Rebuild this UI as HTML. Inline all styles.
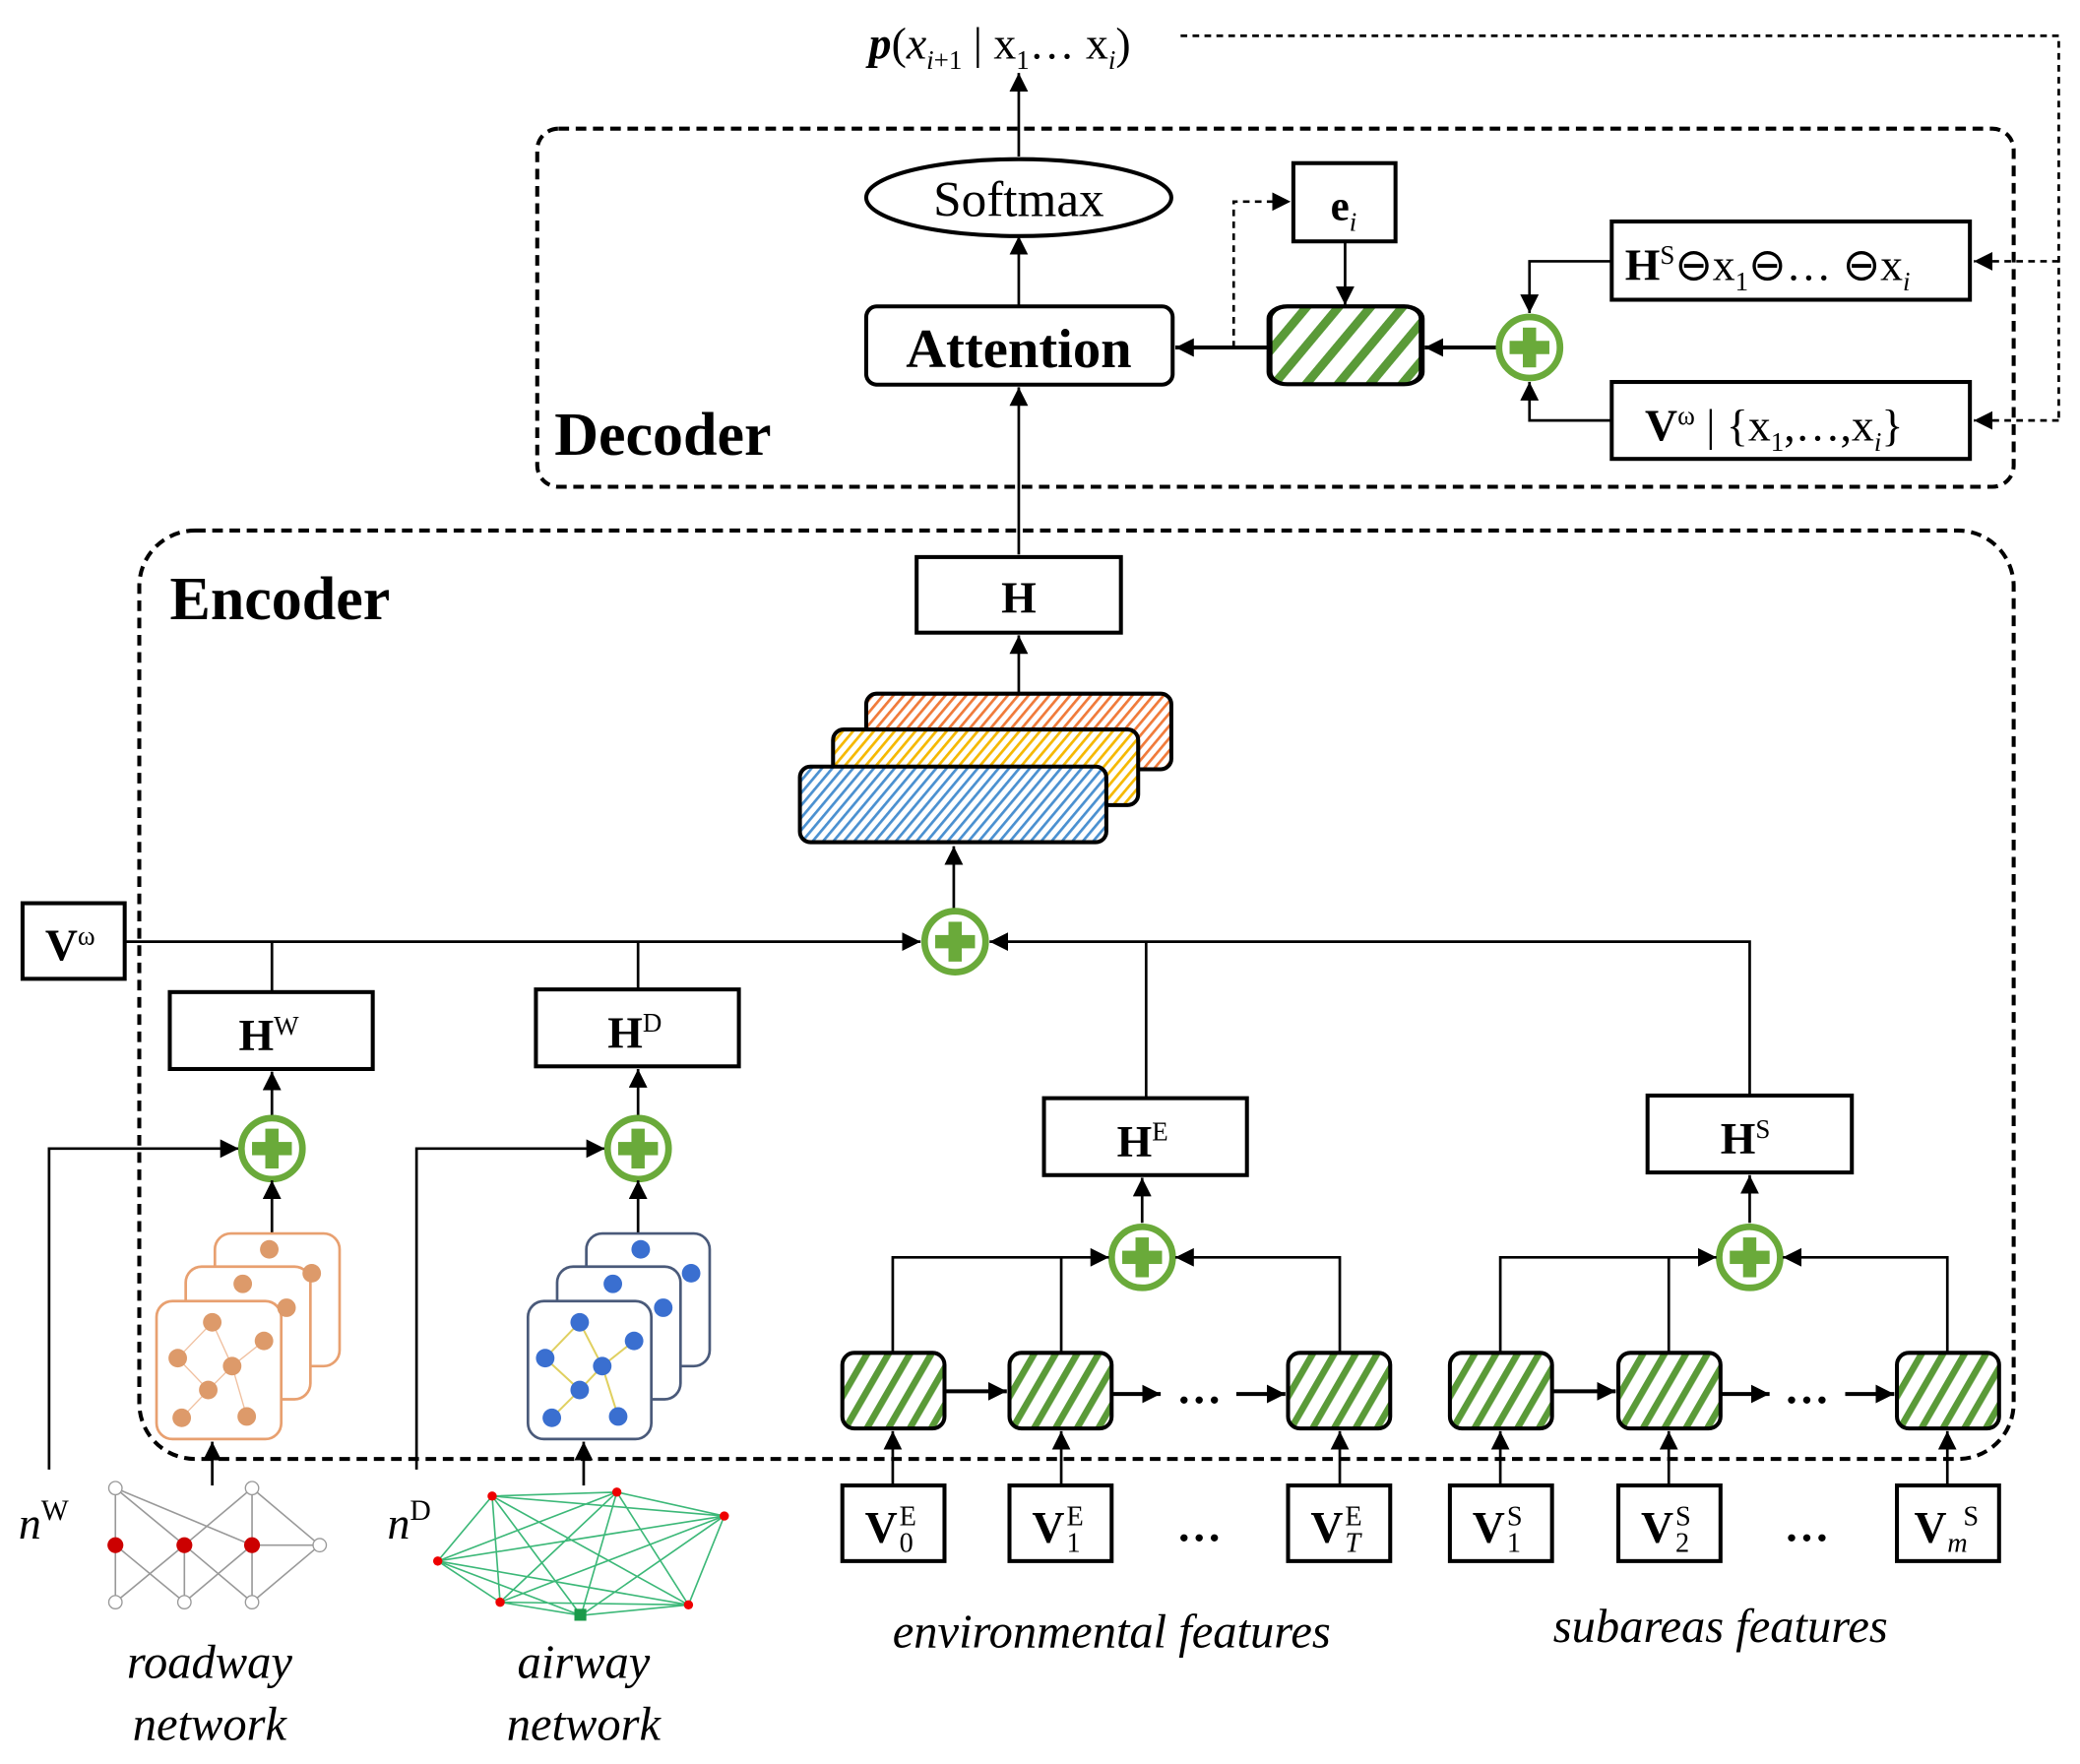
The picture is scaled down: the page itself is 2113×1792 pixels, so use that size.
<!DOCTYPE html>
<html><head><meta charset="utf-8"><style>
html,body{margin:0;padding:0;background:#fff;}
svg{display:block;}
text{font-family:"Liberation Serif",serif;}
</style></head><body>
<svg width="2113" height="1792" viewBox="0 0 1568 1330" preserveAspectRatio="none" xmlns="http://www.w3.org/2000/svg">
<defs>
<marker id="b" viewBox="0 0 14 14" refX="14" refY="7" markerWidth="14" markerHeight="14" orient="auto" markerUnits="userSpaceOnUse"><path d="M0,0 L14,7 L0,14 z" fill="#000" stroke="none"/></marker>
<pattern id="g" width="14" height="14" patternUnits="userSpaceOnUse" patternTransform="rotate(30)"><rect width="14" height="14" fill="#fff" stroke="none"/><rect width="5" height="14" fill="#5a9a38" stroke="none"/></pattern>
<pattern id="po" width="6" height="6" patternUnits="userSpaceOnUse" patternTransform="rotate(40)"><rect width="6" height="6" fill="#fff" stroke="none"/><rect width="2" height="6" fill="#f07a3a" stroke="none"/></pattern>
<pattern id="py" width="6" height="6" patternUnits="userSpaceOnUse" patternTransform="rotate(40)"><rect width="6" height="6" fill="#fff" stroke="none"/><rect width="2" height="6" fill="#f5b800" stroke="none"/></pattern>
<pattern id="pb" width="6" height="6" patternUnits="userSpaceOnUse" patternTransform="rotate(40)"><rect width="6" height="6" fill="#fff" stroke="none"/><rect width="2" height="6" fill="#4a90d0" stroke="none"/></pattern>
<g id="plus"><circle r="23" fill="#fff" stroke="#6aaa3a" stroke-width="5"/><rect x="-15" y="-5" width="30" height="10" fill="#6aaa3a" stroke="none"/><rect x="-5" y="-15" width="10" height="30" fill="#6aaa3a" stroke="none"/></g>
<g id="cell"><rect x="0" y="0" width="77" height="57" rx="9" fill="url(#g)" stroke="#000" stroke-width="3"/></g>
</defs>
<g stroke="#000" fill="none" stroke-width="2">
<text x="655" y="44" font-size="34" fill="#000" stroke="none"><tspan font-style="italic" font-weight="bold">p</tspan>(<tspan font-style="italic">x</tspan><tspan font-size="20" dy="8"><tspan font-style="italic">i</tspan>+1</tspan><tspan dy="-8"> | x</tspan><tspan font-size="20" dy="8">1</tspan><tspan dy="-8">… x</tspan><tspan font-size="20" dy="8" font-style="italic">i</tspan><tspan dy="-8">)</tspan></text>
<path d="M890,27 H1552 V317" stroke-dasharray="5,4"/>
<path d="M1552,197 H1488" stroke-dasharray="5,4" marker-end="url(#b)"/>
<path d="M1552,317 H1488" stroke-dasharray="5,4" marker-end="url(#b)"/>
<path d="M768,118 V55" marker-end="url(#b)"/>
<rect x="405" y="97" width="1113" height="270" rx="16" stroke-width="3" stroke-dasharray="8,5"/>
<ellipse cx="768" cy="149" rx="115" ry="29" stroke-width="3"/>
<text x="768" y="163" font-size="38" text-anchor="middle" fill="#000" stroke="none">Softmax</text>
<path d="M768,230 V178" marker-end="url(#b)"/>
<rect x="653" y="231" width="231" height="59" rx="8" stroke-width="3"/>
<text x="768" y="277" font-size="42" font-weight="bold" text-anchor="middle" fill="#000" stroke="none">Attention</text>
<path d="M768,418 V292" marker-end="url(#b)"/>
<text x="418" y="343" font-size="46" font-weight="bold" fill="#000" stroke="none">Decoder</text>
<rect x="975" y="123" width="77" height="59" stroke-width="3"/>
<text x="1003" y="166" font-size="32" font-weight="bold" fill="#000" stroke="none">e<tspan font-size="20" font-style="italic" font-weight="normal" dy="8">i</tspan></text>
<path d="M930,262 V152 H973" stroke-dasharray="5,4" marker-end="url(#b)"/>
<path d="M1014,182 V230" marker-end="url(#b)"/>
<use href="#cell" transform="translate(957,231) scale(1.49,1.03)"/>
<path d="M957,262 H886" stroke-width="3" marker-end="url(#b)"/>
<path d="M1128,262 H1074" stroke-width="3" marker-end="url(#b)"/>
<use href="#plus" x="1153" y="262"/>
<rect x="1215" y="167" width="270" height="59" stroke-width="3"/>
<text x="1225" y="211" font-size="34" fill="#000" stroke="none"><tspan font-weight="bold">H</tspan><tspan font-size="20" dy="-12">S</tspan><tspan dy="12">⊖x</tspan><tspan font-size="20" dy="8">1</tspan><tspan dy="-8">⊖… ⊖x</tspan><tspan font-size="20" dy="8" font-style="italic">i</tspan></text>
<path d="M1215,197 H1153 V236" marker-end="url(#b)"/>
<rect x="1215" y="288" width="270" height="58" stroke-width="3"/>
<text x="1240" y="332" font-size="34" fill="#000" stroke="none"><tspan font-weight="bold">V</tspan><tspan font-size="20" dy="-12">ω</tspan><tspan dy="12"> | {x</tspan><tspan font-size="20" dy="8">1</tspan><tspan dy="-8">,…,x</tspan><tspan font-size="20" dy="8" font-style="italic">i</tspan><tspan dy="-8">}</tspan></text>
<path d="M1215,317 H1153 V288" marker-end="url(#b)"/>

<rect x="105" y="400" width="1413" height="700" rx="42" stroke-width="3" stroke-dasharray="8,5"/>
<text x="128" y="467" font-size="46" font-weight="bold" fill="#000" stroke="none">Encoder</text>
<rect x="691" y="420" width="154" height="57" stroke-width="3"/>
<text x="768" y="462" font-size="34" font-weight="bold" text-anchor="middle" fill="#000" stroke="none">H</text>
<path d="M768,522 V479" marker-end="url(#b)"/>
<rect x="653" y="523" width="230" height="57" rx="8" fill="url(#po)" stroke-width="3"/>
<rect x="628" y="550" width="230" height="57" rx="8" fill="url(#py)" stroke-width="3"/>
<rect x="603" y="578" width="231" height="57" rx="8" fill="url(#pb)" stroke-width="3"/>
<path d="M719,686 V638" marker-end="url(#b)"/>
<rect x="17" y="681" width="77" height="57" stroke-width="3"/>
<text x="34" y="724" font-size="34" fill="#000" stroke="none"><tspan font-weight="bold">V</tspan><tspan font-size="20" dy="-12">ω</tspan></text>
<path d="M94,710 H694" marker-end="url(#b)"/>
<path d="M205,710 V748 M481,710 V746"/>
<path d="M1319,826 V710 H746" marker-end="url(#b)"/>
<path d="M864,710 V828"/>
<use href="#plus" x="720" y="710"/>
<rect x="128" y="748" width="153" height="58" stroke-width="3"/>
<text x="180" y="792" font-size="34" fill="#000" stroke="none"><tspan font-weight="bold">H</tspan><tspan font-size="20" dy="-12">W</tspan></text>
<rect x="404" y="746" width="153" height="58" stroke-width="3"/>
<text x="458" y="790" font-size="34" fill="#000" stroke="none"><tspan font-weight="bold">H</tspan><tspan font-size="20" dy="-12">D</tspan></text>
<rect x="787" y="828" width="153" height="58" stroke-width="3"/>
<text x="842" y="872" font-size="34" fill="#000" stroke="none"><tspan font-weight="bold">H</tspan><tspan font-size="20" dy="-12">E</tspan></text>
<rect x="1242" y="826" width="154" height="58" stroke-width="3"/>
<text x="1297" y="870" font-size="34" fill="#000" stroke="none"><tspan font-weight="bold">H</tspan><tspan font-size="20" dy="-12">S</tspan></text>
<path d="M205,842 V808" marker-end="url(#b)"/>
<path d="M481,842 V806" marker-end="url(#b)"/>
<path d="M37,1108 V866 H180" marker-end="url(#b)"/>
<path d="M314,1108 V866 H456" marker-end="url(#b)"/>
<use href="#plus" x="205" y="866"/>
<use href="#plus" x="481" y="866"/>
<path d="M205,930 V890" marker-end="url(#b)"/>
<path d="M481,930 V890" marker-end="url(#b)"/>
<g stroke="#e8a070" stroke-width="2" fill="#fff">
<rect x="162" y="930" width="94" height="100" rx="12"/>
<rect x="140" y="955" width="94" height="100" rx="12"/>
<rect x="118" y="981" width="94" height="104" rx="12"/>
</g>
<g stroke="#f0c0a0" stroke-width="1"><path d="M160,997 L134,1024 L157,1048 L175,1030 L160,997 M175,1030 L199,1011 M157,1048 L137,1069 M175,1030 L186,1068"/></g>
<g fill="#dd9a6a" stroke="none">
<circle cx="203" cy="942" r="7"/><circle cx="235" cy="960" r="7"/><circle cx="183" cy="968" r="7"/><circle cx="216" cy="986" r="7"/>
<circle cx="160" cy="997" r="7"/><circle cx="199" cy="1011" r="7"/><circle cx="134" cy="1024" r="7"/><circle cx="175" cy="1030" r="7"/>
<circle cx="157" cy="1048" r="7"/><circle cx="137" cy="1069" r="7"/><circle cx="186" cy="1068" r="7"/>
</g>
<g stroke="#4a5a7a" stroke-width="2" fill="#fff">
<rect x="442" y="930" width="93" height="100" rx="12"/>
<rect x="420" y="955" width="93" height="100" rx="12"/>
<rect x="398" y="981" width="93" height="104" rx="12"/>
</g>
<g stroke="#e0d060" stroke-width="1.5"><path d="M437,997 L411,1024 L437,1048 L454,1030 L437,997 M454,1030 L478,1011 M437,1048 L416,1069 M454,1030 L466,1068"/></g>
<g fill="#3a6fd0" stroke="none">
<circle cx="483" cy="942" r="7"/><circle cx="521" cy="960" r="7"/><circle cx="462" cy="968" r="7"/><circle cx="500" cy="986" r="7"/>
<circle cx="437" cy="997" r="7"/><circle cx="478" cy="1011" r="7"/><circle cx="411" cy="1024" r="7"/><circle cx="454" cy="1030" r="7"/>
<circle cx="437" cy="1048" r="7"/><circle cx="416" cy="1069" r="7"/><circle cx="466" cy="1068" r="7"/>
</g>
<path d="M160,1120 V1087" marker-end="url(#b)"/>
<path d="M440,1120 V1087" marker-end="url(#b)"/>
<g stroke="#999" stroke-width="1.2">
<path d="M87,1122 V1208 M87,1122 L139,1165 M87,1122 L190,1165 M190,1122 V1208 M190,1122 L139,1165 M190,1122 L241,1165 M87,1165 L139,1208 M139,1165 L87,1208 M139,1165 V1208 M139,1165 L190,1208 M190,1165 L139,1208 M190,1165 H241 M241,1165 L190,1208"/>
</g>
<g fill="#fff" stroke="#999" stroke-width="1"><circle cx="87" cy="1122" r="5"/><circle cx="190" cy="1122" r="5"/><circle cx="241" cy="1165" r="5"/><circle cx="87" cy="1208" r="5"/><circle cx="139" cy="1208" r="5"/><circle cx="190" cy="1208" r="5"/></g>
<g fill="#c00" stroke="none"><circle cx="87" cy="1165" r="6"/><circle cx="139" cy="1165" r="6"/><circle cx="190" cy="1165" r="6"/></g>
<g stroke="#3cb878" stroke-width="1.2">
<path d="M371,1128 L465,1125 L546,1143 L519,1210 L438,1218 L377,1208 L330,1177 Z M371,1128 L546,1143 M371,1128 L519,1210 M371,1128 L438,1218 M371,1128 L377,1208 M465,1125 L330,1177 M465,1125 L377,1208 M465,1125 L438,1218 M465,1125 L519,1210 M546,1143 L330,1177 M546,1143 L377,1208 M546,1143 L438,1218 M330,1177 L519,1210 M330,1177 L438,1218 M377,1208 L519,1210"/>
</g>
<g fill="#e00" stroke="none"><circle cx="371" cy="1128" r="3.5"/><circle cx="465" cy="1125" r="3.5"/><circle cx="546" cy="1143" r="3.5"/><circle cx="519" cy="1210" r="3.5"/><circle cx="377" cy="1208" r="3.5"/><circle cx="330" cy="1177" r="3.5"/></g>
<rect x="433" y="1213" width="9" height="9" fill="#1a9a4a" stroke="none"/>
<text x="14" y="1160" font-size="34" font-style="italic" fill="#000" stroke="none">n<tspan font-size="22" font-style="normal" dy="-14">W</tspan></text>
<text x="292" y="1160" font-size="34" font-style="italic" fill="#000" stroke="none">n<tspan font-size="22" font-style="normal" dy="-14">D</tspan></text>
<g font-size="36" font-style="italic" text-anchor="middle" fill="#000" stroke="none">
<text x="158" y="1265">roadway</text><text x="158" y="1312">network</text>
<text x="440" y="1265">airway</text><text x="440" y="1312">network</text>
<text x="838" y="1242">environmental features</text>
<text x="1297" y="1238">subareas features</text>
</g>
<use href="#plus" x="861" y="948"/>
<use href="#plus" x="1319" y="948"/>
<path d="M861,922 V888" marker-end="url(#b)"/>
<path d="M1319,922 V886" marker-end="url(#b)"/>
<path d="M673,1020 V948 H836" marker-end="url(#b)"/>
<path d="M800,1020 V948"/>
<path d="M1010,1020 V948 H886" marker-end="url(#b)"/>
<path d="M1131,1020 V948 H1294" marker-end="url(#b)"/>
<path d="M1258,1020 V948"/>
<path d="M1468,1020 V948 H1344" marker-end="url(#b)"/>
<use href="#cell" x="635" y="1020"/><use href="#cell" x="761" y="1020"/><use href="#cell" x="971" y="1020"/>
<use href="#cell" x="1093" y="1020"/><use href="#cell" x="1220" y="1020"/><use href="#cell" x="1430" y="1020"/>
<g stroke-width="3">
<path d="M712,1049 H759" marker-end="url(#b)"/><path d="M838,1051 H875" marker-end="url(#b)"/><path d="M932,1051 H969" marker-end="url(#b)"/>
<path d="M1170,1049 H1218" marker-end="url(#b)"/><path d="M1297,1051 H1334" marker-end="url(#b)"/><path d="M1391,1051 H1428" marker-end="url(#b)"/>
</g>
<g font-size="34" font-weight="bold" text-anchor="middle" fill="#000" stroke="none"><text x="904" y="1058">…</text><text x="1362" y="1058">…</text><text x="904" y="1162">…</text><text x="1362" y="1162">…</text></g>
<g stroke-width="3">
<rect x="635" y="1120" width="77" height="57"/><rect x="761" y="1120" width="77" height="57"/><rect x="971" y="1120" width="77" height="57"/>
<rect x="1093" y="1120" width="77" height="57"/><rect x="1220" y="1120" width="77" height="57"/><rect x="1430" y="1120" width="77" height="57"/>
</g>
<path d="M673,1120 V1079" marker-end="url(#b)"/><path d="M800,1120 V1079" marker-end="url(#b)"/><path d="M1010,1120 V1079" marker-end="url(#b)"/>
<path d="M1131,1120 V1079" marker-end="url(#b)"/><path d="M1258,1120 V1079" marker-end="url(#b)"/><path d="M1468,1120 V1079" marker-end="url(#b)"/>
<g font-size="34" fill="#000" stroke="none">
<text x="652" y="1163"><tspan font-weight="bold">V</tspan></text><text x="678" y="1150" font-size="21">E</text><text x="678" y="1170" font-size="21">0</text>
<text x="778" y="1163"><tspan font-weight="bold">V</tspan></text><text x="804" y="1150" font-size="21">E</text><text x="804" y="1170" font-size="21">1</text>
<text x="988" y="1163"><tspan font-weight="bold">V</tspan></text><text x="1014" y="1150" font-size="21">E</text><text x="1014" y="1170" font-size="21" font-style="italic">T</text>
<text x="1110" y="1163"><tspan font-weight="bold">V</tspan></text><text x="1136" y="1150" font-size="21">S</text><text x="1136" y="1170" font-size="21">1</text>
<text x="1237" y="1163"><tspan font-weight="bold">V</tspan></text><text x="1263" y="1150" font-size="21">S</text><text x="1263" y="1170" font-size="21">2</text>
<text x="1443" y="1163"><tspan font-weight="bold">V</tspan></text><text x="1480" y="1150" font-size="21">S</text><text x="1468" y="1170" font-size="21" font-style="italic">m</text>
</g>
</g>
</svg>
</body></html>
